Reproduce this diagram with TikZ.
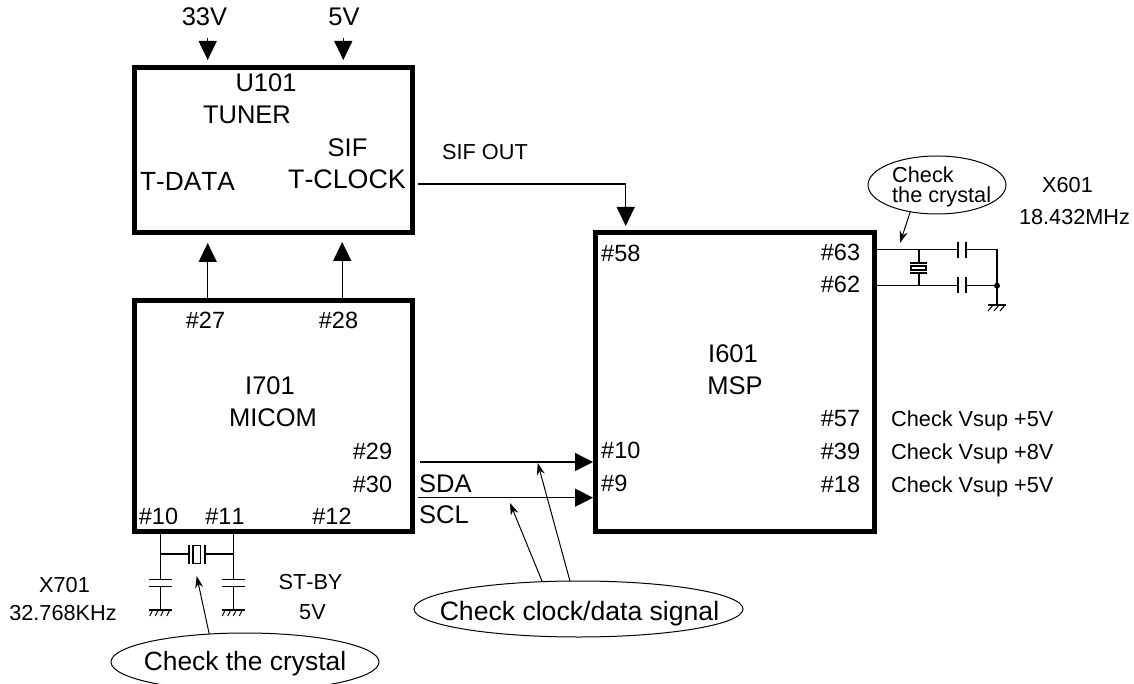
\documentclass[tikz,border=0pt]{standalone}
\usepackage{fontspec}
\setmainfont[Kerning=Off]{Liberation Sans}
\usetikzlibrary{shapes.geometric,arrows.meta}
\tikzset{
  x=1pt,y=-1pt,
  block/.style={draw,line width=5pt,rectangle,inner sep=0pt,outer sep=0pt,minimum width=#1},
  wire/.style={line width=1.3pt},
  thinwire/.style={line width=1pt},
  big/.style={inner sep=0pt,font=\fontsize{25.5}{28}\selectfont,anchor=base},
  pin/.style={inner sep=0pt,font=\fontsize{23.5}{26}\selectfont,anchor=base},
  small/.style={inner sep=0pt,font=\fontsize{21.7}{24}\selectfont,anchor=base},
  bigarrow/.style={wire,-{Triangle[length=19pt,width=18pt]}},
  callarrow/.style={thinwire,-{Stealth[length=12pt,width=8pt]}},
  oval/.style={draw,ellipse,line width=1pt,inner sep=0pt,outer sep=0pt},
}
\begin{document}
\begin{tikzpicture}
\useasboundingbox (0,0) rectangle (1134,684);
% blocks
\node[block=278pt,minimum height=164.5pt] (tuner) at (273.5,150.25) {};
\node[block=278pt,minimum height=231pt] (micom) at (273.5,416) {};
\node[block=279pt,minimum height=299pt] (msp) at (735,382) {};
% connector ends
\coordinate (tunerA) at (207.7,243);
\coordinate (tunerB) at (342.2,242);
\coordinate (micA) at (207.7,298);
\coordinate (micB) at (342.2,298);
\coordinate (pin58) at (625.7,226);
\coordinate (pinA) at (593,462);
\coordinate (pinB) at (593,497.7);
% top
\node[big] at (204.5,26) {33V};
\node[big] at (344,26) {5V};
\coordinate (a33) at (207.7,38); \coordinate (a33e) at (207.7,60);
\coordinate (a5) at (343.3,38); \coordinate (a5e) at (343.3,60);
\draw[bigarrow] (a33) -- (a33e);
\draw[bigarrow] (a5) -- (a5e);
% tuner text
\node[big] at (266,92) {U101};
\node[big] at (247,124) {TUNER};
\node[big] at (347.5,157) {SIF};
\node[big,font=\fontsize{26.3}{28}\selectfont] at (187.5,191) {T-DATA};
\node[big,font=\fontsize{26.8}{28}\selectfont] at (347,189) {T-CLOCK};
\draw[bigarrow] (micA) -- (tunerA);
\draw[bigarrow] (micB) -- (tunerB);
% SIF OUT
\node[small] at (485,160) {SIF OUT};
\coordinate (sifs) at (418,184); \coordinate (sifc) at (625.7,184);
\draw[bigarrow] (sifs) -- (sifc) -- (pin58);
% micom text
\node[pin] at (205.5,328) {\#27};
\node[pin] at (338.5,328) {\#28};
\node[big] at (270,394) {I701};
\node[big] at (273,426) {MICOM};
\node[pin] at (372.5,459) {\#29};
\node[pin] at (372.5,492) {\#30};
\node[pin] at (158.5,524) {\#10};
\node[pin] at (225,524) {\#11};
\node[pin] at (332,524) {\#12};
% SDA/SCL
\coordinate (sda) at (420,462); \coordinate (scl) at (418,497.7);
\draw[bigarrow,-{Triangle[length=18pt,width=18pt]}] (sda) -- (pinA);
\draw[bigarrow,-{Triangle[length=18pt,width=18pt]}] (scl) -- (pinB);
\node[big,anchor=base west] at (419,492) {SDA};
\node[big,anchor=base west] at (419,523) {SCL};
% MSP text
\node[pin,anchor=base west] at (601,262) {\#58};
\node[pin] at (840.5,261) {\#63};
\node[pin] at (840.5,293) {\#62};
\node[big] at (733,362) {I601};
\node[big] at (735,394) {MSP};
\node[pin] at (840.5,426) {\#57};
\node[pin] at (840.5,459) {\#39};
\node[pin] at (840.5,492) {\#18};
\node[pin,anchor=base west] at (601,458) {\#10};
\node[pin,anchor=base west] at (601,491) {\#9};
\node[small,anchor=base west] at (891,426) {Check Vsup +5V};
\node[small,anchor=base west] at (891,459) {Check Vsup +8V};
\node[small,anchor=base west] at (891,492) {Check Vsup +5V};
\node[small] at (1067.5,193) {X601};
\node[small] at (1074.5,224.5) {18.432MHz};
% MSP crystal
\coordinate (p63) at (877,249.5);
\coordinate (p62) at (877,285.7);
\draw[wire] (p63) -- (958,249.5);
\draw[wire] (p62) -- (958,285.7);
\draw[wire] (919,249.5) -- (919,263) (919,273) -- (919,285.7);
\draw[wire] (910,263) -- (927,263) (910,273) -- (927,273);
\draw[wire] (911,266) rectangle (926,270);
\draw[wire] (958,242) -- (958,258) (966,242) -- (966,258);
\draw[wire] (958,277) -- (958,293) (966,277) -- (966,293);
\draw[wire] (966,249.5) -- (997,249.5) -- (997,305);
\draw[wire] (966,285.7) -- (997,285.7);
\fill (997,285.7) circle (3pt);
\draw[wire] (988,305) -- (1006,305);
\draw[thinwire] (993,305) -- (988,311) (999,305) -- (994,311) (1005,305) -- (1000,311);
\node[oval,minimum width=138pt,minimum height=58pt] (call1) at (937,185) {};
\node[small,anchor=base west] at (892,183) {Check};
\node[small,anchor=base west] at (892,203) {the crystal};
\coordinate (call1t) at (900,243);
\draw[callarrow] (call1.225) -- (call1t);
% MICOM crystal
\draw[wire] (160.7,534) -- (160.7,579.3) (160.7,586.7) -- (160.7,610);
\draw[wire] (233.3,534) -- (233.3,579.3) (233.3,586.7) -- (233.3,610);
\draw[wire] (160.7,554) -- (189,554) (205,554) -- (233.3,554);
\draw[wire] (189,545) -- (189,564) (205,545) -- (205,564);
\draw[wire] (193,545.5) rectangle (200.7,563.5);
\foreach \xx in {160.7,233.3}{
  \draw[wire] (\xx-11.5,579.3) -- (\xx+11.5,579.3) (\xx-11.5,586.7) -- (\xx+11.5,586.7);
  \draw[wire] (\xx-11.5,610) -- (\xx+11.5,610);
  \draw[thinwire] (\xx-8,610) -- (\xx-11,616) (\xx-2.5,610) -- (\xx-5.5,616) (\xx+3,610) -- (\xx,616) (\xx+9,610) -- (\xx+6,616);
}
\node[small] at (64.5,592) {X701};
\node[small] at (63,620) {32.768KHz};
\node[small] at (310.5,589) {ST-BY};
\node[small] at (312.5,619) {5V};
\node[oval,minimum width=268pt,minimum height=58pt] (call2) at (245,662) {};
\node[big,font=\fontsize{26.4}{28}\selectfont] at (245,670) {Check the crystal};
\coordinate (call2t) at (196.7,576);
\draw[callarrow] (call2.142) -- (call2t);
\node[oval,minimum width=329pt,minimum height=56pt] (call3) at (578.5,609) {};
\node[big,font=\fontsize{26.6}{28}\selectfont] at (579.5,620) {Check clock/data signal};
\coordinate (c3a) at (510,503); \coordinate (c3b) at (537.7,463);
\draw[callarrow] (call3.143) -- (c3a);
\draw[callarrow] (call3.107) -- (c3b);
\end{tikzpicture}
\end{document}
